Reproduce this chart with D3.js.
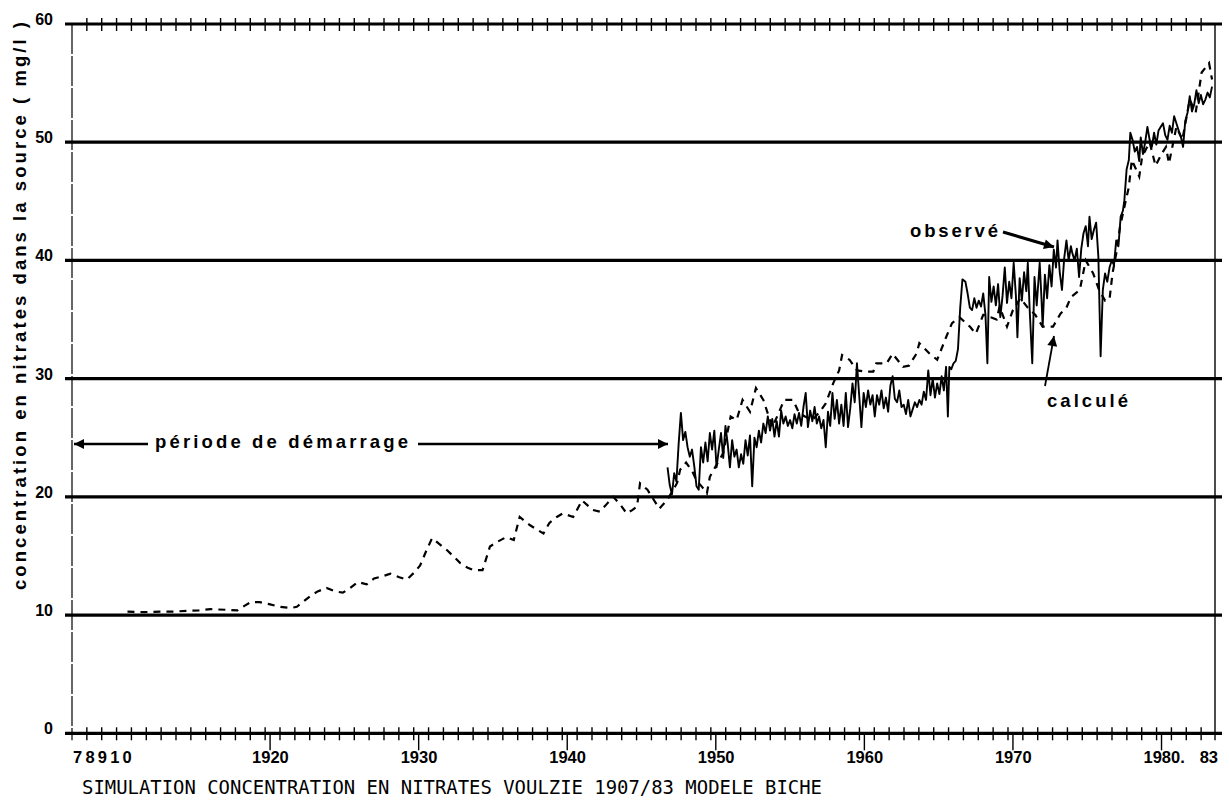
<!DOCTYPE html>
<html>
<head>
<meta charset="utf-8">
<script src="https://cdn.jsdelivr.net/npm/d3@7"></script>
<style>
  body { margin: 0; background: #fff; }
  svg { display: block; }
</style>
</head>
<body>
<svg id="chart" width="1229" height="800"></svg>
<script>
// Calculated nitrate concentration (model BICHE), mg/l
const calcYears = [
  1910.4, 1911.5, 1912.6, 1913.5, 1914.4, 1915.2, 1916.0, 1917.0, 1917.8, 1918.3,
  1918.7, 1919.3, 1920.0, 1920.7, 1921.4, 1921.8, 1922.2, 1922.7, 1923.2, 1923.8,
  1924.4, 1924.9, 1925.4, 1925.9, 1926.5, 1927.0, 1927.6, 1928.1, 1928.7, 1929.2,
  1929.7, 1930.1, 1930.5, 1930.9, 1931.4, 1931.9, 1932.4, 1932.8, 1933.3, 1933.7,
  1934.3, 1934.8, 1935.3, 1935.9, 1936.4, 1936.8, 1937.5, 1938.0, 1938.4, 1938.8,
  1939.3, 1939.7, 1940.4, 1941.0, 1941.7, 1942.2, 1942.7, 1943.1, 1943.6, 1944.0,
  1944.4, 1944.7, 1944.9, 1945.4, 1945.8, 1946.2, 1946.7, 1947.1, 1947.4, 1947.6,
  1948.0, 1948.4, 1948.7, 1949.1, 1949.4, 1949.6, 1950.0, 1950.5, 1951.0, 1951.4,
  1951.8, 1952.3, 1952.7, 1953.2, 1953.8, 1954.2, 1954.6, 1955.2, 1955.6, 1956.0,
  1956.5, 1957.0, 1957.4, 1957.9, 1958.3, 1958.5, 1959.0, 1959.5, 1960.0, 1960.6,
  1960.8, 1961.5, 1961.9, 1962.6, 1963.0, 1963.5, 1963.7, 1964.4, 1964.9, 1965.5,
  1965.9, 1966.4, 1967.1, 1967.5, 1968.0, 1968.5, 1968.9, 1969.1, 1969.6, 1970.0,
  1970.5, 1971.0, 1971.5, 1972.0, 1972.7, 1973.2, 1973.6, 1973.9, 1974.5, 1974.9,
  1975.4, 1975.8, 1976.2, 1976.5, 1976.7, 1977.0, 1977.2, 1977.6, 1977.8, 1978.0,
  1978.5, 1978.7, 1979.2, 1979.6, 1980.0, 1980.3, 1980.5, 1981.0, 1981.4, 1981.9,
  1982.3, 1982.7, 1983.2, 1983.4
];
const calcValues = [
  10.3, 10.25, 10.3, 10.3, 10.35, 10.4, 10.5, 10.45, 10.4, 10.8,
  11.1, 11.1, 10.9, 10.7, 10.6, 10.7, 11.1, 11.6, 12.0, 12.3,
  12.0, 11.9, 12.3, 12.8, 12.6, 13.1, 13.3, 13.5, 13.2, 13.0,
  13.6, 14.2, 15.4, 16.5, 16.0, 15.5, 14.9, 14.4, 14.0, 13.8,
  13.8, 15.8, 16.2, 16.6, 16.35, 18.3, 17.6, 17.2, 16.9, 17.8,
  18.3, 18.6, 18.3, 19.7, 18.9, 18.75, 19.45, 20.0, 19.3, 18.6,
  18.9, 19.2, 21.15, 20.6, 19.8, 19.0, 19.7, 20.5, 21.2, 22.3,
  22.9, 22.2, 21.4, 20.8, 20.3, 21.7, 22.6, 23.7, 26.8, 26.5,
  28.2, 27.2, 29.2, 28.2, 25.9, 27.0, 28.2, 28.2, 27.1, 26.8,
  26.5, 27.2, 27.9, 29.6, 30.7, 32.0, 31.6, 30.7, 30.6, 30.6,
  31.3, 31.3, 32.1, 31.0, 31.1, 32.1, 33.0, 32.1, 31.6, 33.5,
  34.7, 35.2, 34.4, 33.8, 35.4, 35.2, 35.0, 36.1, 34.4, 35.8,
  36.8, 36.0, 35.4, 34.4, 34.4, 35.5, 36.0, 36.9, 37.5, 40.0,
  38.9, 37.5, 36.6, 36.7, 38.9, 40.9, 42.8, 45.1, 46.2, 48.5,
  47.1, 48.8, 50.0, 48.0, 49.0, 49.6, 48.2, 51.3, 50.2, 53.6,
  52.5, 55.9, 56.7, 55.3
];

// Observed nitrate concentration at the spring, mg/l
const obsYears = [
  1946.75, 1946.9, 1947.05, 1947.2, 1947.35, 1947.5, 1947.65, 1947.8, 1947.95, 1948.1,
  1948.25, 1948.4, 1948.55, 1948.7, 1948.85, 1949.0, 1949.15, 1949.3, 1949.45, 1949.6,
  1949.75, 1949.9, 1950.05, 1950.2, 1950.35, 1950.5, 1950.65, 1950.8, 1950.95, 1951.1,
  1951.25, 1951.4, 1951.55, 1951.7, 1951.85, 1952.0, 1952.15, 1952.3, 1952.45, 1952.6,
  1952.75, 1952.9, 1953.05, 1953.2, 1953.35, 1953.5, 1953.65, 1953.8, 1953.95, 1954.1,
  1954.25, 1954.4, 1954.55, 1954.7, 1954.85, 1955.0, 1955.15, 1955.3, 1955.45, 1955.6,
  1955.75, 1955.9, 1956.05, 1956.2, 1956.35, 1956.5, 1956.65, 1956.8, 1956.95, 1957.1,
  1957.25, 1957.4, 1957.55, 1957.7, 1957.85, 1958.0, 1958.15, 1958.3, 1958.45, 1958.6,
  1958.75, 1958.9, 1959.05, 1959.2, 1959.35, 1959.5, 1959.65, 1959.8, 1959.95, 1960.1,
  1960.25, 1960.4, 1960.55, 1960.7, 1960.85, 1961.0, 1961.15, 1961.3, 1961.45, 1961.6,
  1961.75, 1961.9, 1962.05, 1962.2, 1962.35, 1962.5, 1962.65, 1962.8, 1962.95, 1963.1,
  1963.25, 1963.4, 1963.55, 1963.7, 1963.85, 1964.0, 1964.15, 1964.3, 1964.45, 1964.6,
  1964.75, 1964.9, 1965.05, 1965.2, 1965.35, 1965.5, 1965.62, 1965.72, 1965.85, 1966.0,
  1966.15, 1966.3, 1966.45, 1966.6, 1966.8, 1966.95, 1967.1, 1967.25, 1967.4, 1967.55,
  1967.7, 1967.85, 1968.0, 1968.15, 1968.28, 1968.4, 1968.55, 1968.7, 1968.85, 1969.0,
  1969.15, 1969.3, 1969.45, 1969.6, 1969.75, 1969.9, 1970.05, 1970.2, 1970.3, 1970.45,
  1970.6, 1970.75, 1970.9, 1971.0, 1971.12, 1971.3, 1971.45, 1971.6, 1971.8, 1971.92,
  1972.0, 1972.15, 1972.3, 1972.45, 1972.6, 1972.75, 1972.9, 1973.0, 1973.15, 1973.3,
  1973.45, 1973.6, 1973.75, 1973.9, 1974.0, 1974.15, 1974.3, 1974.45, 1974.6, 1974.75,
  1974.9, 1975.05, 1975.15, 1975.3, 1975.45, 1975.6, 1975.75, 1975.9, 1976.05, 1976.2,
  1976.35, 1976.5, 1976.65, 1976.8, 1976.95, 1977.1, 1977.25, 1977.4, 1977.5, 1977.65,
  1977.8, 1977.9, 1978.05, 1978.2, 1978.35, 1978.5, 1978.6, 1978.75, 1978.9, 1979.05,
  1979.2, 1979.35, 1979.5, 1979.65, 1979.8, 1979.95, 1980.1, 1980.25, 1980.4, 1980.55,
  1980.7, 1980.85, 1981.0, 1981.15, 1981.3, 1981.45, 1981.6, 1981.75, 1981.9, 1982.05,
  1982.2, 1982.35, 1982.5, 1982.65, 1982.8, 1982.95, 1983.1, 1983.25, 1983.4
];
const obsValues = [
  22.5, 21.0, 20.2, 22.0, 21.3, 24.5, 27.1, 24.8, 25.5, 24.2,
  23.4, 24.0, 22.6, 20.9, 20.6, 24.2, 22.9, 24.6, 23.0, 25.4,
  24.0, 25.6, 22.5, 24.0, 25.4, 23.3, 26.0, 24.5, 22.5, 24.8,
  23.4, 24.0, 22.5, 23.6, 22.8, 24.8, 23.5, 25.2, 20.9, 25.0,
  24.2, 25.6, 24.6, 26.2, 25.4, 26.8, 25.6, 26.6, 25.1, 26.4,
  25.1, 27.3, 26.2, 26.8, 26.0, 26.5, 25.8, 27.0, 26.2, 27.1,
  26.0, 27.6, 28.8, 25.9, 27.3, 26.4, 27.6, 26.2, 26.8, 25.8,
  26.5, 24.2, 27.2, 26.0, 28.8, 26.6, 28.2, 26.2, 27.8, 26.0,
  28.8, 25.9, 27.5, 29.6, 28.0, 31.3, 28.6, 25.9, 28.8, 27.6,
  29.0, 27.8, 28.6, 26.8, 28.6, 27.8, 29.0, 27.5, 28.4, 27.2,
  29.4, 30.2, 28.3, 28.0, 29.0, 27.6, 27.8, 27.0, 28.2, 26.8,
  27.4, 28.0, 27.6, 28.2, 27.8, 28.9, 28.2, 30.7, 28.6, 30.0,
  28.4, 29.6, 28.7, 30.2, 29.0, 31.0, 26.8, 31.0, 30.8, 31.3,
  31.5, 32.5, 36.0, 38.4, 38.2, 37.2, 36.0, 35.8, 36.8, 36.0,
  36.6, 36.1, 37.2, 35.4, 31.3, 38.6, 36.5, 37.8, 36.2, 38.0,
  35.2, 37.0, 39.4, 36.4, 38.2, 36.8, 39.8, 37.0, 33.5, 38.5,
  36.6, 39.0, 37.4, 39.8, 36.0, 31.3, 38.6, 36.2, 39.8, 36.8,
  34.4, 38.8, 36.8, 39.6, 37.8, 40.9, 39.4, 41.7, 39.0, 37.5,
  40.2, 41.7, 40.0, 41.2, 40.6, 40.0, 41.0, 38.6, 41.0, 42.3,
  42.9, 41.2, 43.7, 41.8, 42.6, 43.2, 40.3, 31.9, 37.5, 38.9,
  38.2, 39.4, 40.0, 39.6, 41.7, 41.2, 43.7, 44.2, 45.1, 47.7,
  48.5, 50.8, 50.2, 49.2, 49.6, 48.4, 50.4, 49.0, 50.0, 51.3,
  50.2, 49.6, 50.8, 49.8, 51.0, 51.3, 51.6, 50.6, 50.2, 51.4,
  50.8, 52.2, 51.6, 51.0, 50.5, 49.6, 51.8, 52.5, 53.9, 52.6,
  53.2, 54.4, 53.3, 54.0, 53.2, 53.6, 54.2, 53.8, 54.7
];

// Axis ticks and labels
const yTickValues = [0, 10, 20, 30, 40, 50, 60];
const decadeYears = [1920, 1930, 1940, 1950, 1960, 1970, 1980];
const decadeLabels = ["1920", "1930", "1940", "1950", "1960", "1970", "1980."];
const yearTicks = d3.range(1908, 1984).map(y => y - 1 / 3);
const firstYearsLabel = "78910";
const lastYearLabel = "83";
const yTitle = "concentration en nitrates dans la source ( mg/l )";
const chartTitle = "SIMULATION CONCENTRATION EN NITRATES VOULZIE 1907/83 MODELE BICHE";

const svg = d3.select("#chart");
const ink = "#000";

const x = d3.scaleLinear().domain([1906.667, 1983.667]).range([72, 1216]);
const y = d3.scaleLinear().domain([0, 60]).range([733.3, 24]);

// horizontal reference lines, including the 0 and 60 frame lines
svg.append("g").selectAll("line")
  .data(yTickValues)
  .join("line")
  .attr("x1", 65).attr("x2", 1222)
  .attr("y1", d => y(d)).attr("y2", d => y(d))
  .attr("stroke", ink).attr("stroke-width", 3.2);

// left and right frame lines
svg.append("line")
  .attr("x1", x.range()[0]).attr("x2", x.range()[0])
  .attr("y1", y(60)).attr("y2", y(0) + 7)
  .attr("stroke", ink).attr("stroke-width", 1.2)
  .attr("stroke-dasharray", "30,2");
svg.append("line")
  .attr("x1", x.range()[1] - 1).attr("x2", x.range()[1] - 1)
  .attr("y1", y(60)).attr("y2", y(0) + 7)
  .attr("stroke", ink).attr("stroke-width", 1.4);

// yearly ticks on top and bottom axes
const tickGroup = svg.append("g").attr("stroke", ink).attr("stroke-width", 1.4);
[y(60), y(0)].forEach(base => {
  tickGroup.append("g").selectAll("line")
    .data(yearTicks)
    .join("line")
    .attr("x1", d => x(d)).attr("x2", d => x(d))
    .attr("y1", base - 6).attr("y2", base + 7);
});
// decade ticks on the bottom axis
tickGroup.append("g").selectAll("line")
  .data(decadeYears)
  .join("line")
  .attr("x1", d => x(d)).attr("x2", d => x(d))
  .attr("y1", y(0)).attr("y2", y(0) + 17);

// y tick labels
const labelFont = "'Liberation Sans', Arial, sans-serif";
svg.append("g").selectAll("text")
  .data(yTickValues)
  .join("text")
  .attr("x", 53)
  .attr("y", d => y(d) + 1)
  .attr("text-anchor", "end")
  .attr("font-family", labelFont)
  .attr("font-weight", "bold")
  .attr("font-size", 16)
  .attr("fill", ink)
  .text(d => d);

// x tick labels
svg.append("g").selectAll("text")
  .data(decadeYears)
  .join("text")
  .attr("x", d => x(d) - 18)
  .attr("y", 763)
  .attr("font-family", labelFont)
  .attr("font-weight", "bold")
  .attr("font-size", 16.5)
  .attr("fill", ink)
  .text((d, i) => decadeLabels[i]);
svg.append("text")
  .attr("x", x.range()[0] + 1).attr("y", 763)
  .attr("font-family", labelFont).attr("font-weight", "bold")
  .attr("font-size", 16.5).attr("letter-spacing", 3.2)
  .attr("fill", ink).text(firstYearsLabel);
svg.append("text")
  .attr("x", x.range()[1] + 2).attr("y", 763)
  .attr("text-anchor", "end")
  .attr("font-family", labelFont).attr("font-weight", "bold")
  .attr("font-size", 16.5).attr("fill", ink).text(lastYearLabel);

// y axis title
svg.append("text")
  .attr("transform", "translate(26,306) rotate(-90)")
  .attr("text-anchor", "middle")
  .attr("font-family", labelFont)
  .attr("font-weight", "bold")
  .attr("font-size", 18.5)
  .attr("textLength", 568)
  .attr("lengthAdjust", "spacing")
  .attr("fill", ink)
  .text(yTitle);

// chart title under the axis
svg.append("text")
  .attr("x", 82).attr("y", 794)
  .attr("font-family", "'DejaVu Sans Mono', monospace")
  .attr("font-size", 19)
  .attr("textLength", 740)
  .attr("lengthAdjust", "spacingAndGlyphs")
  .attr("fill", ink)
  .text(chartTitle);

// calculated series (dashed)
const calcLine = d3.line()
  .x((d, i) => x(calcYears[i]))
  .y(d => y(d));
svg.append("path")
  .datum(calcValues)
  .attr("d", calcLine)
  .attr("fill", "none")
  .attr("stroke", ink)
  .attr("stroke-width", 2.2)
  .attr("stroke-dasharray", "7,6");

// observed series (solid)
const obsLine = d3.line()
  .x((d, i) => x(obsYears[i]))
  .y(d => y(d));
svg.append("path")
  .datum(obsValues)
  .attr("d", obsLine)
  .attr("fill", "none")
  .attr("stroke", ink)
  .attr("stroke-width", 1.9)
  .attr("stroke-linejoin", "round");

// arrowheads
const defs = svg.append("defs");
defs.append("marker")
  .attr("id", "head")
  .attr("viewBox", "0 0 10 10")
  .attr("refX", 10).attr("refY", 5)
  .attr("markerUnits", "userSpaceOnUse")
  .attr("markerWidth", 16).attr("markerHeight", 10)
  .attr("orient", "auto")
  .append("path").attr("d", "M0,0 L10,5 L0,10 Z").attr("fill", ink);

const arrowG = svg.append("g").attr("stroke", ink).attr("fill", "none");
// start-up period
const startupY = 444;
arrowG.append("line")
  .attr("x1", 148).attr("y1", startupY).attr("x2", x.range()[0] + 2).attr("y2", startupY)
  .attr("stroke-width", 2.6).attr("marker-end", "url(#head)");
arrowG.append("line")
  .attr("x1", 418).attr("y1", startupY).attr("x2", 668).attr("y2", startupY)
  .attr("stroke-width", 2.6).attr("marker-end", "url(#head)");
// observed / calculated pointers
arrowG.append("line")
  .attr("x1", 1003).attr("y1", 232).attr("x2", 1054).attr("y2", 247)
  .attr("stroke-width", 3).attr("marker-end", "url(#head)");
arrowG.append("line")
  .attr("x1", 1045).attr("y1", 386).attr("x2", 1054).attr("y2", 336)
  .attr("stroke-width", 1.8).attr("marker-end", "url(#head)");

// annotation labels
const noteStyle = sel => sel
  .attr("font-family", labelFont)
  .attr("font-weight", "bold")
  .attr("font-size", 18.5)
  .attr("fill", ink);
svg.append("text").call(noteStyle)
  .attr("x", 155).attr("y", 448)
  .attr("textLength", 253).attr("lengthAdjust", "spacing")
  .text("période de démarrage");
svg.append("text").call(noteStyle)
  .attr("x", 910).attr("y", 237)
  .attr("textLength", 88).attr("lengthAdjust", "spacing")
  .text("observé");
svg.append("text").call(noteStyle)
  .attr("x", 1047).attr("y", 407)
  .attr("textLength", 81).attr("lengthAdjust", "spacing")
  .text("calculé");
</script>
</body>
</html>
